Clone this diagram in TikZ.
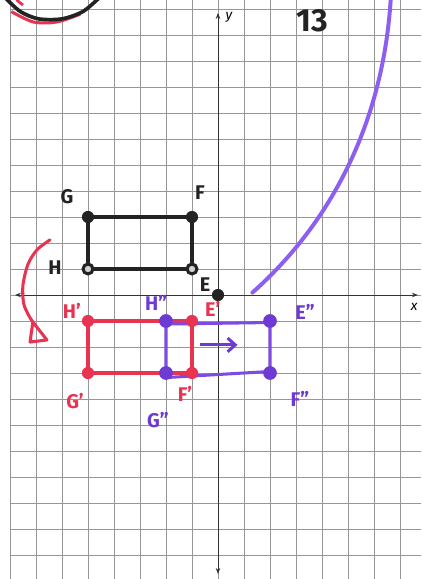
\documentclass[tikz,border=0pt]{standalone}
\usepackage{fontspec}
\setmainfont{Fira Sans}
\usetikzlibrary{arrows.meta}
\definecolor{mred}{RGB}{232,52,80}
\definecolor{mpurp}{RGB}{110,58,212}
\definecolor{mline}{RGB}{125,75,225}
\definecolor{mcurve}{RGB}{140,95,240}
\definecolor{gridc}{RGB}{150,150,150}
\definecolor{ink}{RGB}{35,35,35}
\begin{document}
\begin{tikzpicture}[x=0.6cm,y=0.6cm,
  gridline/.style={draw=gridc,line width=0.55pt},
  axisline/.style={draw=black!80,line width=0.6pt,{Stealth[length=4pt,width=3pt]}-{Stealth[length=4pt,width=3pt]}},
  bdot/.style={circle,fill=ink,inner sep=0pt,minimum size=8pt},
  bring/.style={circle,draw=ink,fill=gray!35,line width=2pt,inner sep=0pt,minimum size=6.5pt},
  rdot/.style={circle,fill=mred,inner sep=0pt,minimum size=8pt},
  pdot/.style={circle,fill=mpurp,inner sep=0pt,minimum size=9pt},
  lbl/.style={font=\fontsize{13}{13}\selectfont\bfseries,inner sep=0pt},
  blackline/.style={draw=ink,line width=2.3pt,line join=round},
  redline/.style={draw=mred,line width=2pt,line join=round},
  purpline/.style={draw=mline,line width=2pt,line join=round},
  curveline/.style={draw=mcurve,line width=2.6pt,line cap=round}
]
\fill[white] (-8.3846,-10.923) rectangle (7.8077,11.346);
\useasboundingbox (-8.3846,-10.923) rectangle (7.8077,11.346);
% grid
\foreach \x in {-8,...,7} \draw[gridline] (\x,-10.923) -- (\x,11.346);
\foreach \y in {-10,...,11} \draw[gridline] (-8,\y) -- (7.8077,\y);
% axes
\coordinate (xl) at (-7.81,0);
\coordinate (xr) at (7.69,0);
\coordinate (yb) at (0,-10.73);
\coordinate (yt) at (0,10.85);
\draw[axisline] (xl) -- (xr);
\draw[axisline] (yb) -- (yt);
\node[font=\itshape\fontsize{9}{9}\selectfont] (ylab) at (0.42,10.69) {y};
\node[font=\itshape\fontsize{9}{9}\selectfont] (xlab) at (7.54,-0.46) {x};
% top-left circled mark
\draw[mred,line width=2pt] plot[smooth] coordinates {(-7.95,10.9) (-7.1,10.5) (-6.2,10.5) (-5.3,10.8)};
\draw[ink,line width=2.4pt] plot[smooth] coordinates {(-8.15,11.4) (-7.6,10.9) (-6.9,10.62) (-6.0,10.62) (-5.2,10.9) (-4.6,11.4)};
\draw[mred,line width=1.8pt] (-7.75,11.35) -- (-7.5,11.15);
% title
\node[font=\fontsize{21}{21}\selectfont\bfseries,text=ink] (num) at (3.62,10.54) {13};
% coordinates
\coordinate (Gc) at (-5,3);
\coordinate (Fc) at (-1,3);
\coordinate (Hc) at (-5,1);
\coordinate (Ec) at (-1,1);
\coordinate (G1c) at (-5,-3);
\coordinate (F1c) at (-1,-3);
\coordinate (H1c) at (-5,-1);
\coordinate (E1c) at (-1,-1);
\coordinate (G2c) at (-2,-3);
\coordinate (F2c) at (2,-3);
\coordinate (H2c) at (-2,-1);
\coordinate (E2c) at (2,-1);
% red reflection curve arrow
\draw[redline,line cap=round] plot[smooth] coordinates {(-6.46,2.12) (-6.95,1.75) (-7.3,1.2) (-7.5,0.4) (-7.48,-0.3) (-7.3,-0.75) (-7.12,-1.04)};
\draw[redline] (-7.12,-1.04) -- (-7.23,-1.81) -- (-6.58,-1.73) -- cycle;
% purple curve
\coordinate (cs) at (1.31,0.08);
\coordinate (ce) at (6.65,11.5);
\draw[curveline] (cs) .. controls (4.6,3.0) and (6.4,7.0) .. (ce);
% black rectangle
\draw[blackline] (Gc) -- (Fc) -- (Ec) -- (Hc) -- cycle;
% red rectangle
\draw[redline] (H1c) -- (E1c) -- (F1c) -- (G1c) -- cycle;
% purple rectangle (slightly offset, hand drawn)
\draw[purpline] ([yshift=-2pt]H2c) -- ([yshift=-1pt]E2c) -- ([yshift=1pt]F2c) -- ([yshift=-3pt]G2c) -- cycle;
% purple translation arrow
\coordinate (ta) at (-0.7,-1.92);
\coordinate (tb) at (0.75,-1.92);
\draw[purpline,draw=mpurp,-{Straight Barb[length=5pt,width=9pt]}] (ta) -- (tb);
% dots
\node[bdot] (G) at (Gc) {};
\node[bdot] (F) at (Fc) {};
\node[bring] (H) at (Hc) {};
\node[bring] (E) at (Ec) {};
\node[bdot] (O) at (0,0) {};
\node[rdot] (G1) at (G1c) {};
\node[rdot] (F1) at (F1c) {};
\node[rdot] (H1) at (H1c) {};
\node[rdot] (E1) at (E1c) {};
\node[pdot] (G2) at (G2c) {};
\node[pdot] (F2) at (F2c) {};
\node[pdot] (H2) at (H2c) {};
\node[pdot] (E2) at (E2c) {};
% labels
\node[lbl,text=ink] (lG) at (-5.81,3.77) {G};
\node[lbl,text=ink] (lF) at (-0.69,3.92) {F};
\node[lbl,text=ink] (lH) at (-6.27,1.04) {H};
\node[lbl,text=ink] (lE) at (-0.5,0.38) {E};
\node[lbl,text=mred] (lH1) at (-5.62,-0.62) {H'};
\node[lbl,text=mred] (lE1) at (-0.2,-0.54) {E'};
\node[lbl,text=mred] (lG1) at (-5.5,-4.08) {G'};
\node[lbl,text=mred] (lF1) at (-1.27,-3.81) {F'};
\node[lbl,text=mpurp] (lH2) at (-2.38,-0.31) {H''};
\node[lbl,text=mpurp] (lE2) at (3.35,-0.65) {E''};
\node[lbl,text=mpurp] (lF2) at (3.15,-4.0) {F''};
\node[lbl,text=mpurp] (lG2) at (-2.31,-4.81) {G''};
\end{tikzpicture}
\end{document}
